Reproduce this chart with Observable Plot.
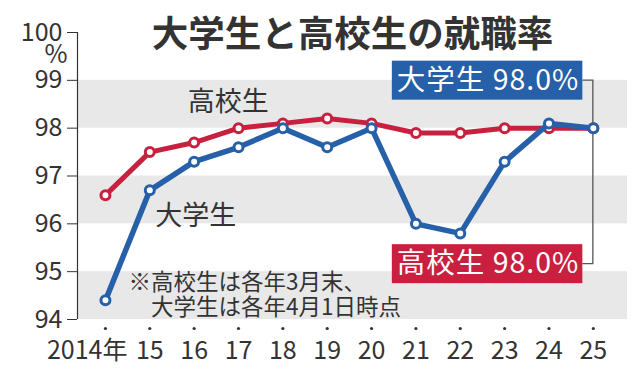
<!DOCTYPE html>
<html><head><meta charset="utf-8">
<script src="https://cdn.jsdelivr.net/npm/d3@7"></script>
<script src="https://cdn.jsdelivr.net/npm/@observablehq/plot@0.6"></script>
<style>body{margin:0;background:#fff}#chart{width:640px;height:377px}</style>
</head><body><div id="chart"></div>
<script>
const years = [2014,2015,2016,2017,2018,2019,2020,2021,2022,2023,2024,2025];
const xLabels = ["2014年","15","16","17","18","19","20","21","22","23","24","25"];
const highSchool = [96.6,97.5,97.7,98.0,98.1,98.2,98.1,97.9,97.9,98.0,98.0,98.0];
const university = [94.4,96.7,97.3,97.6,98.0,97.6,98.0,96.0,95.8,97.3,98.1,98.0];
const yTicks = [94,95,96,97,98,99,100];
const bands = [[94,95],[96,97],[98,99]];
const seriesNames = ["高校生","大学生"];
const title = "大学生と高校生の就職率";
const unit = "%";
const note = "※高校生は各年3月末、\n\u3000大学生は各年4月1日時点";

const FONT = '"Noto Sans CJK JP", sans-serif';
const RED = "#c8203e", BLUE = "#2660a8", INK = "#333";
const rows = years.map((y,i)=>({year:y, hs:highSchool[i], uni:university[i]}));
const last = rows.length - 1;
const annoUni = `${seriesNames[1]} ${university[last].toFixed(1)}%`;
const annoHs = `${seriesNames[0]} ${highSchool[last].toFixed(1)}%`;

const chart = Plot.plot({
  width:640, height:377, marginLeft:77, marginRight:13, marginTop:32, marginBottom:58,
  style:{fontFamily:FONT, color:INK, background:"#fff", overflow:"visible"},
  x:{domain:[2013.37, 2025.77], axis:null},
  y:{domain:[94,100], axis:null},
  marks:[
    Plot.rect(bands, {y1:d=>d[0], y2:d=>d[1], fill:"#e8e8e8"}),
    Plot.ruleX([years[0]], {x:()=>2013.37, stroke:INK, strokeWidth:1.2}),
    Plot.axisY(yTicks, {anchor:"left", tickSize:10, tickPadding:5, fontSize:25, stroke:INK, fill:INK, tickFormat:d=>String(d)}),
    Plot.text([unit], {frameAnchor:"top-left", dx:-33, dy:22, lineAnchor:"middle", fontSize:25, fill:INK}),
    Plot.dot(years, {x:d=>d, frameAnchor:"bottom", dy:9, r:1.6, fill:INK}),
    Plot.text(years.slice(0,1), {x:d=>d, text:(d,i)=>xLabels[0], frameAnchor:"bottom", lineAnchor:"middle", dy:31, fontSize:25, fill:INK, textAnchor:"end", dx:22}),
    Plot.text(years.slice(1), {x:d=>d, text:(d,i)=>xLabels[i+1], frameAnchor:"bottom", lineAnchor:"middle", dy:31, fontSize:25, fill:INK}),
    Plot.text([title], {frameAnchor:"top", lineAnchor:"middle", dy:3, fontSize:36.5, fontWeight:700, fill:INK}),
    Plot.text([note], {frameAnchor:"bottom-left", lineAnchor:"middle", dx:51, dy:-25, textAnchor:"start", fontSize:22.5, lineHeight:1.1, fill:INK}),
    Plot.text([seriesNames[0]], {x:()=>years[2], y:()=>highSchool[2], dx:34, dy:-40, fontSize:27, fill:INK}),
    Plot.text([seriesNames[1]], {x:()=>years[1], y:()=>university[1], dx:46, dy:26, fontSize:27, fill:INK}),
    Plot.line(rows, {x:"year", y:"hs", stroke:RED, strokeWidth:5, ariaDescription:"hs-line"}),
    Plot.dot(rows, {x:"year", y:"hs", r:4.5, fill:"white", stroke:RED, strokeWidth:3}),
    Plot.line(rows, {x:"year", y:"uni", stroke:BLUE, strokeWidth:5.5}),
    Plot.dot(rows, {x:"year", y:"uni", r:4.5, fill:"white", stroke:BLUE, strokeWidth:3}),
    Plot.text([annoUni], {x:()=>years[last], y:()=>university[last], dx:-14, dy:-47.5, textAnchor:"end", fontSize:28.5, fill:"white"}),
    Plot.text([annoHs], {x:()=>years[last], y:()=>highSchool[last], dx:-14, dy:136, textAnchor:"end", fontSize:28.5, fill:"white"})
  ]
});
document.getElementById("chart").append(chart);

// boxes behind annotations + bracket connector
const svg = d3.select(chart);
const xs = chart.scale("x"), ys = chart.scale("y");
const xEnd = xs.apply(years[last]);
const svgRect = chart.getBoundingClientRect();
const findText = (s) => svg.selectAll("text").filter(function(){ return this.textContent === s; }).node();
const centers = [];
[[annoUni, BLUE, university[last], -47.5], [annoHs, RED, highSchool[last], 136]].forEach(([s, col, v, dy]) => {
  const t = findText(s);
  if (!t) return;
  t.style.letterSpacing = "1px";
  const r = t.getBoundingClientRect();
  const left = r.left - svgRect.left, right = r.right - svgRect.left;
  const cy = ys.apply(v) + dy;
  svg.insert("rect", () => t.parentNode)
    .attr("x", left - 5).attr("width", right - left + 8)
    .attr("y", cy - 19.5).attr("height", 39).attr("fill", col);
  centers.push({right: right + 3, cy});
});
if (centers.length === 2) {
  const [a, b] = centers;
  const lineG = svg.selectAll("g").filter(function(){ return this.getAttribute("aria-description") === "hs-line"; }).node();
  svg.insert("path", () => lineG)
    .attr("d", `M${a.right},${a.cy}H${xEnd}V${b.cy}H${b.right}`)
    .attr("fill", "none").attr("stroke", "#555").attr("stroke-width", 1.3);
}
</script></body></html>
